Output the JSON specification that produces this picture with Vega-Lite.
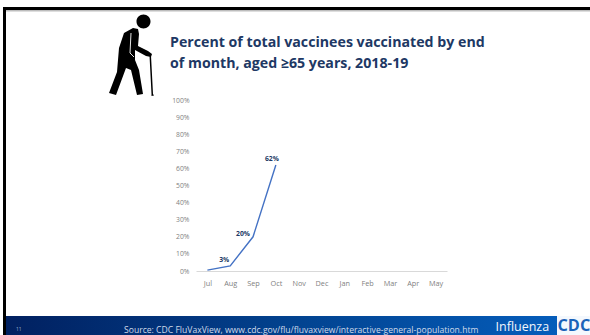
{
  "$schema": "https://vega.github.io/schema/vega-lite/v6.json",
  "width": 251,
  "height": 171,
  "autosize": "none",
  "padding": {"left": 196, "top": 100, "right": 143, "bottom": 64},
  "background": "white",
  "config": {"view": {"stroke": null}, "font": "Open Sans"},
  "title": {
    "text": ["Percent of total vaccinees vaccinated by end", "of month, aged ≥65 years, 2018-19"],
    "anchor": "start",
    "frame": "group",
    "align": "left",
    "baseline": "alphabetic",
    "dx": -26,
    "offset": 0,
    "dy": 75.5,
    "font": "Open Sans",
    "fontSize": 14.2,
    "fontWeight": "bold",
    "color": "#203864",
    "lineHeight": 21.5
  },
  "datasets": {
    "uptake": [
      {"month": "Jul", "share": 0.005},
      {"month": "Aug", "share": 0.03, "labelled": "low"},
      {"month": "Sep", "share": 0.2, "labelled": "mid"},
      {"month": "Oct", "share": 0.62, "labelled": "high"}
    ]
  },
  "layer": [
    {"data": {"values": [{"part": "top rule shadow"}]}, "mark": {"type": "rect", "x": -190, "x2": 394, "y": -90, "y2": -88.5, "fill": "#bdbdbd", "clip": false}, "encoding": {}},
    {"data": {"values": [{"part": "top rule"}]}, "mark": {"type": "rect", "x": -193, "x2": 394, "y": -93, "y2": -90, "fill": "#000000"}, "encoding": {}},
    {"data": {"values": [{"part": "left rule"}]}, "mark": {"type": "rect", "x": -193, "x2": -190, "y": -93, "y2": 235, "fill": "#000000"}, "encoding": {}},
    {
      "data": {"values": [{"part": "footer band"}]},
      "mark": {
        "type": "rect", "x": -190, "x2": 394, "y": 216, "y2": 235,
        "fill": {"gradient": "linear", "x1": 0, "x2": 1, "y1": 0, "y2": 0,
          "stops": [{"offset": 0, "color": "#012060"}, {"offset": 0.5, "color": "#024390"}, {"offset": 1, "color": "#0560c0"}]}
      },
      "encoding": {}
    },
    {"data": {"values": [{"part": "logo plate"}]}, "mark": {"type": "rect", "x": 361, "x2": 394, "y": 216, "y2": 235, "fill": "#f4f8fd"}, "encoding": {}},
    {"data": {"values": [{"t": "CDC"}]}, "mark": {"type": "text", "x": 361.5, "y": 225.5, "align": "left", "font": "Open Sans", "fontSize": 16.3, "fontWeight": "bold", "fill": "#1a62b8"}, "encoding": {"text": {"field": "t"}}},
    {"data": {"values": [{"t": "11"}]}, "mark": {"type": "text", "x": -180, "y": 229, "align": "left", "font": "Open Sans", "fontSize": 5, "fill": "#9fb0cf"}, "encoding": {"text": {"field": "t"}}},
    {"data": {"values": [{"t": "Source: CDC FluVaxView, www.cdc.gov/flu/fluvaxview/interactive-general-population.htm"}]}, "mark": {"type": "text", "x": -72, "y": 229.5, "align": "left", "font": "Open Sans", "fontSize": 8.6, "fill": "#cfdaea"}, "encoding": {"text": {"field": "t"}}},
    {"data": {"values": [{"t": "Influenza"}]}, "mark": {"type": "text", "x": 299.5, "y": 227.3, "align": "left", "font": "Open Sans", "fontSize": 12.5, "fill": "#f2f6fb"}, "encoding": {"text": {"field": "t"}}},
    {
      "data": {"values": [{"part": "walking figure"}]},
      "mark": {
        "type": "point", "filled": true, "opacity": 1, "fill": "#000000", "size": 4, "x": -64, "y": -44.5,
        "shape": "M4.5 -34 a7 7 0 1 0 14 0 a7 7 0 1 0 -14 0Z M1 -27.5 L6 -26.5 L7 -21.5 L6 -9.5 L16 -4.5 L20 -1.5 L19 1.5 L14 0.5 L3 -5.5 L3 4.5 L7 14.5 L11 38.5 L5 39.5 L-1 14.5 L-6 12.5 L-16 39.5 L-23 37.5 L-15 16.5 L-13 -7.5 L-8 -22.5 Z M17.5 0 L19 0 L21 38.5 L22 40 L19.5 40.5 L19.5 38.5 Z"
      },
      "encoding": {}
    },
    {
      "data": {"values": [{"part": "arm outline"}]},
      "mark": {
        "type": "point", "filled": false, "opacity": 1, "stroke": "#ffffff", "strokeWidth": 0.9, "size": 4, "x": -64, "y": -44.5,
        "shape": "M-1 -22.5 L-2 -2.5 L2 1.5"
      },
      "encoding": {}
    },
    {
      "data": {"name": "uptake"},
      "encoding": {
        "x": {
          "field": "month", "type": "ordinal",
          "scale": {"type": "point", "padding": 0.5, "domain": ["Jul", "Aug", "Sep", "Oct", "Nov", "Dec", "Jan", "Feb", "Mar", "Apr", "May"]},
          "axis": {"title": null, "labelAngle": 0, "ticks": false, "labelPadding": 8, "labelFontSize": 7.3, "labelColor": "#7f7f7f", "domainColor": "#d9d9d9", "domainWidth": 1, "grid": false, "labelFont": "Open Sans"}
        },
        "y": {
          "field": "share", "type": "quantitative",
          "scale": {"domain": [0, 1]},
          "axis": {"title": null, "format": ".0%", "values": [0, 0.1, 0.2, 0.3, 0.4, 0.5, 0.6, 0.7, 0.8, 0.9, 1], "labelOverlap": false, "ticks": false, "domain": false, "grid": false, "labelPadding": 7, "labelFontSize": 6.8, "labelColor": "#7f7f7f", "labelFont": "Open Sans"}
        }
      },
      "layer": [
        {"mark": {"type": "line", "color": "#4472c4", "strokeWidth": 1.4}},
        {
          "transform": [{"filter": "datum.labelled === 'low'"}],
          "mark": {"type": "text", "dx": -6, "dy": -6, "font": "Open Sans", "fontSize": 6.8, "fontWeight": "bold", "fill": "#203864"},
          "encoding": {"text": {"field": "share", "type": "quantitative", "format": ".0%"}}
        },
        {
          "transform": [{"filter": "datum.labelled === 'mid'"}],
          "mark": {"type": "text", "dx": -10, "dy": -3, "font": "Open Sans", "fontSize": 6.8, "fontWeight": "bold", "fill": "#203864"},
          "encoding": {"text": {"field": "share", "type": "quantitative", "format": ".0%"}}
        },
        {
          "transform": [{"filter": "datum.labelled === 'high'"}],
          "mark": {"type": "text", "dx": -4, "dy": -6, "font": "Open Sans", "fontSize": 6.8, "fontWeight": "bold", "fill": "#203864"},
          "encoding": {"text": {"field": "share", "type": "quantitative", "format": ".0%"}}
        }
      ]
    }
  ]
}
